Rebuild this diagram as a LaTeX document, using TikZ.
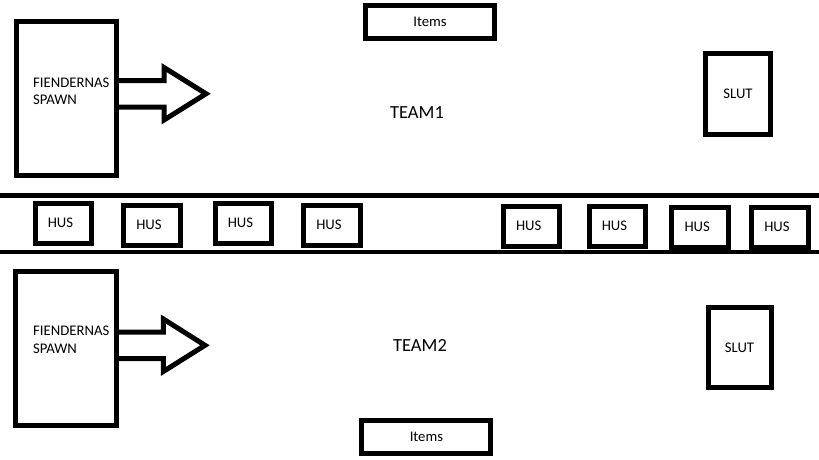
\documentclass[tikz,border=0pt]{standalone}
\usepackage{fontspec}
\setmainfont{Carlito}
\begin{document}
\begin{tikzpicture}[x=1pt,y=-1pt,
  framebox/.style={draw=black, line width=5pt, inner sep=0pt, font=\fontsize{14.7}{17.7}\selectfont},
  husbox/.style={framebox, minimum width=56.5pt, minimum height=40pt, execute at end node={\kern6pt}},
  road/.style={draw=black, line width=4.5pt},
  bigarrow/.style={draw=black, line width=5pt, line join=miter},
  smalltext/.style={inner sep=0pt, font=\fontsize{14.7}{17.7}\selectfont},
  teamtext/.style={inner sep=0pt, font=\fontsize{18.5}{22}\selectfont}]
\useasboundingbox[fill=white] (0,0) rectangle (819,460);

% road
\coordinate (rl1) at (0,195.5);
\coordinate (rr1) at (819,195.5);
\coordinate (rl2) at (0,252);
\coordinate (rr2) at (819,252);
\draw[road] (rl1) -- (rr1);
\draw[road] (rl2) -- (rr2);

% team 1
\node[framebox, minimum width=100pt, minimum height=154pt] (sp1) at (66.5,98.5) {};
\node[smalltext, anchor=north west, align=left] (sp1t) at (33,77.3) {FIENDERNAS\\SPAWN};
\draw[bigarrow] (116.5,80.5) -- (164,80.5) -- (164,67.5) -- (206,93.75) -- (164,120) -- (164,107) -- (116.5,107);
\node[framebox, minimum width=129pt, minimum height=33pt] (it1) at (430,22) {Items};
\node[teamtext] (team1) at (417,113) {TEAM1};
\node[framebox, minimum width=65pt, minimum height=81pt] (sl1) at (738,94) {SLUT};

% houses
\node[husbox] (h1) at (63.5,223) {HUS};
\node[husbox] (h2) at (152,225) {HUS};
\node[husbox] (h3) at (243.5,223) {HUS};
\node[husbox] (h4) at (332,225) {HUS};
\node[husbox] (h5) at (531.7,226) {HUS};
\node[husbox] (h6) at (617.5,226) {HUS};
\node[husbox] (h7) at (700.2,227) {HUS};
\node[husbox] (h8) at (780,227) {HUS};

% team 2
\node[framebox, minimum width=100.5pt, minimum height=154pt] (sp2) at (66,348) {};
\node[smalltext, anchor=north west, align=left] (sp2t) at (33,325.7) {FIENDERNAS\\SPAWN};
\draw[bigarrow] (116.5,332) -- (163.3,332) -- (163.3,319) -- (205,345.3) -- (163.3,371.5) -- (163.3,358.7) -- (116.5,358.7);
\node[teamtext] (team2) at (420,345) {TEAM2};
\node[framebox, minimum width=63pt, minimum height=80pt] (sl2) at (739.5,347.5) {SLUT};
\node[framebox, minimum width=129pt, minimum height=32.4pt] (it2) at (426.4,437) {Items};
\end{tikzpicture}
\end{document}
